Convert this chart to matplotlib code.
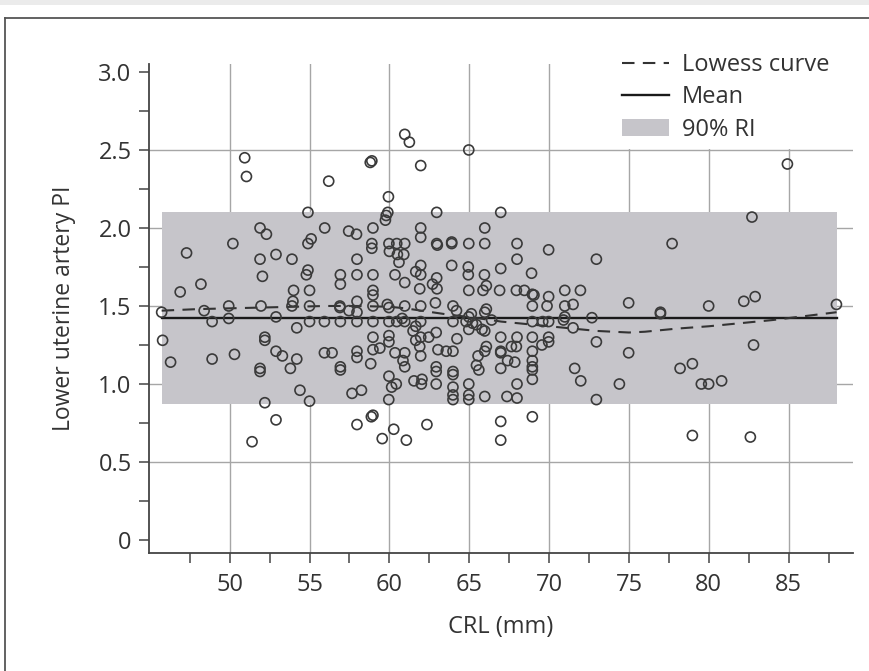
import matplotlib
matplotlib.use('Agg')
import numpy as np
from matplotlib import pyplot as plt
from matplotlib.lines import Line2D
from matplotlib.patches import Patch, Rectangle

#--------------
# data: CRL (mm) vs lower uterine artery PI

crl = [50.94, 51.05, 56.2, 54.9, 51.9, 52.3, 55.95, 55.1, 54.9, 50.2, 47.3, 52.9, 51.9, 53.9, 52.05, 54.9, 54.8, 48.2, 46.9, 54.0, 55.0,
       45.74, 48.4, 49.94, 49.94, 48.9, 51.96, 52.9, 53.96, 53.9, 55.0, 55.0, 55.93, 54.2, 45.8, 52.2, 52.2, 50.3, 52.9, 53.3, 54.2,
       55.93, 46.3, 48.9, 51.9, 51.9, 53.8, 54.4, 55.0, 52.2, 52.9, 51.4,
       60.96, 61.25, 64.97, 58.9, 58.8, 61.96, 59.94, 59.9, 59.8, 59.75, 62.96, 57.45, 57.94, 58.97, 61.96, 61.96, 65.97, 58.9, 58.9,
       59.97, 60.46, 60.96, 60.0, 60.5, 60.9, 60.6, 62.96, 63.0, 63.9, 63.9, 64.97, 65.97, 57.97, 61.96, 61.65, 61.96, 60.35, 63.9,
       64.94, 64.94, 65.95, 62.96, 56.93, 56.93, 57.97, 58.97, 60.96, 61.9, 62.7, 62.98, 58.97, 64.97, 65.86, 66.07,
       58.97, 66.9, 56.9, 56.9, 57.97, 57.97, 57.47, 58.97, 59.87, 59.97, 60.96, 61.96, 62.88, 63.98, 64.2, 65.13, 64.97, 65.97, 66.07,
       56.93, 57.97, 58.97, 59.97, 60.46, 60.96, 60.8, 61.96, 63.98, 64.8, 65.2, 64.97, 65.45, 65.8, 65.97, 66.4, 61.48, 61.65, 62.93,
       58.97, 59.97, 59.97, 61.65, 61.96, 62.46, 64.23, 61.9, 61.96, 63.04, 63.56, 63.98, 58.97, 59.4, 57.97, 57.97, 56.41, 60.35,
       60.96, 60.85, 60.96, 58.83, 56.93, 56.93, 65.97, 66.07, 65.55, 65.45, 65.6, 62.93, 62.93, 63.98, 63.98, 59.97, 60.43, 60.14,
       61.54, 62.04, 62.0, 62.93, 64.97, 63.98, 63.98, 58.25, 57.66, 59.96, 63.98, 64.97, 64.97, 65.97, 58.97, 58.87, 57.97, 60.27,
       62.35, 59.55, 61.06, 66.97, 66.97,
       66.97, 67.99, 67.99, 69.97, 66.97, 68.9, 72.96, 77.7, 67.95, 68.45, 68.95, 69.05, 69.97, 70.98, 71.96, 68.95, 69.87, 70.98,
       71.5, 74.98, 68.95, 69.6, 69.97, 70.9, 70.98, 71.5, 72.68, 76.97, 76.97, 66.97, 67.99, 68.95, 69.97, 69.97, 69.55, 72.96,
       67.95, 67.64, 66.97, 66.97, 68.95, 68.95, 67.4, 67.85, 66.97, 68.95, 68.95, 71.6, 74.98, 68.95, 71.98, 67.99, 74.4, 67.36,
       67.99, 72.96, 68.95,
       84.92, 82.7, 79.99, 82.19, 82.9, 87.99, 82.8, 78.2, 78.97, 79.53, 79.99, 80.8, 78.97, 82.6]

pi = [2.45, 2.33, 2.30, 2.10, 2.00, 1.96, 2.00, 1.93, 1.90, 1.90, 1.84, 1.83, 1.80, 1.80, 1.69, 1.73, 1.70, 1.64, 1.59, 1.60, 1.60,
      1.46, 1.47, 1.50, 1.42, 1.40, 1.50, 1.43, 1.53, 1.50, 1.50, 1.40, 1.40, 1.36, 1.28, 1.30, 1.28, 1.19, 1.21, 1.18, 1.16,
      1.20, 1.14, 1.16, 1.10, 1.08, 1.10, 0.96, 0.89, 0.88, 0.77, 0.63,
      2.60, 2.55, 2.50, 2.43, 2.42, 2.40, 2.20, 2.10, 2.08, 2.05, 2.10, 1.98, 1.96, 2.00, 2.00, 1.94, 2.00, 1.90, 1.87,
      1.90, 1.90, 1.90, 1.85, 1.83, 1.83, 1.78, 1.90, 1.89, 1.91, 1.90, 1.90, 1.90, 1.80, 1.76, 1.72, 1.70, 1.70, 1.76,
      1.75, 1.70, 1.70, 1.68, 1.70, 1.64, 1.70, 1.70, 1.65, 1.61, 1.64, 1.61, 1.60, 1.60, 1.60, 1.63,
      1.57, 1.60, 1.50, 1.49, 1.53, 1.46, 1.47, 1.50, 1.51, 1.49, 1.50, 1.50, 1.52, 1.50, 1.47, 1.45, 1.43, 1.46, 1.48,
      1.40, 1.40, 1.40, 1.40, 1.40, 1.40, 1.42, 1.40, 1.40, 1.40, 1.39, 1.35, 1.38, 1.35, 1.34, 1.41, 1.34, 1.37, 1.33,
      1.30, 1.31, 1.27, 1.28, 1.30, 1.30, 1.29, 1.24, 1.18, 1.22, 1.21, 1.21, 1.22, 1.23, 1.21, 1.17, 1.20, 1.20,
      1.20, 1.15, 1.11, 1.13, 1.11, 1.09, 1.21, 1.24, 1.18, 1.12, 1.09, 1.11, 1.08, 1.08, 1.06, 1.05, 1.00, 0.98,
      1.02, 1.03, 1.00, 1.00, 1.00, 0.98, 0.93, 0.96, 0.94, 0.90, 0.90, 0.93, 0.90, 0.92, 0.80, 0.79, 0.74, 0.71,
      0.74, 0.65, 0.64, 0.76, 0.64,
      2.10, 1.90, 1.80, 1.86, 1.74, 1.71, 1.80, 1.90, 1.60, 1.60, 1.575, 1.57, 1.56, 1.60, 1.60, 1.50, 1.50, 1.50,
      1.51, 1.52, 1.40, 1.40, 1.40, 1.41, 1.43, 1.36, 1.425, 1.46, 1.45, 1.30, 1.30, 1.30, 1.30, 1.27, 1.25, 1.27,
      1.24, 1.24, 1.21, 1.20, 1.21, 1.15, 1.15, 1.14, 1.10, 1.11, 1.09, 1.10, 1.20, 1.03, 1.02, 1.00, 1.00, 0.92,
      0.91, 0.90, 0.79,
      2.41, 2.07, 1.50, 1.53, 1.56, 1.51, 1.25, 1.10, 1.13, 1.00, 1.00, 1.02, 0.67, 0.66]

# lowess curve
lowess_x = [45.74, 48, 50, 52, 54, 56, 58, 60, 61, 62, 63, 64, 65, 66, 67, 68, 69, 70, 71, 72, 73, 74, 75, 76, 77, 78, 80, 82, 84, 86, 88]
lowess_y = [1.47, 1.48, 1.485, 1.49, 1.495, 1.50, 1.50, 1.495, 1.485, 1.47, 1.455, 1.44, 1.43, 1.415, 1.40, 1.39, 1.38, 1.37, 1.36, 1.35,
            1.34, 1.335, 1.33, 1.335, 1.345, 1.355, 1.37, 1.39, 1.41, 1.435, 1.46]

mean_pi = 1.42
ri_lo, ri_hi = 0.87, 2.10  # 90% reference interval
ri_x = [45.74, 88.05]

x_grid = [50, 55, 60, 65, 70, 75, 80, 85]
y_grid = [0.5, 1.0, 1.5, 2.0, 2.5]
y_ticks = [0, 0.5, 1.0, 1.5, 2.0, 2.5, 3.0]
y_ticklabels = ['0', '0.5', '1.0', '1.5', '2.0', '2.5', '3.0']

#--------------

txt = '#333333'
font = ['Open Sans', 'DejaVu Sans']

fig = plt.figure(figsize=(8.69, 6.71), dpi=100)
ax = fig.add_axes([0.1715, 0.1759, 0.8096, 0.7285])

# page frame round the figure
fig.add_artist(Rectangle((0, 1 - 5/671), 1, 5/671, transform=fig.transFigure, color='#ebebeb', lw=0))
fig.add_artist(Line2D([4.5/869, 4.5/869], [0, 1 - 18/671], transform=fig.transFigure, color='#555555', lw=1.3))
fig.add_artist(Line2D([4.5/869, 1], [1 - 18/671, 1 - 18/671], transform=fig.transFigure, color='#555555', lw=1.3))

for g in x_grid:
    ax.axvline(g, color='#a6a6a6', lw=1.0, zorder=0)
for g in y_grid:
    ax.axhline(g, color='#a6a6a6', lw=1.0, zorder=0)

ax.fill_between(ri_x, ri_lo, ri_hi, color='#c6c5ca', lw=0, zorder=1)
ax.plot(ri_x, [mean_pi, mean_pi], color='#1a1a1a', lw=1.7, zorder=2)
ax.plot(lowess_x, lowess_y, color='#333333', lw=1.5, dashes=(6, 4), zorder=2)
ax.scatter(crl, pi, s=52, facecolors='none', edgecolors='#3a3a3a', linewidths=1.2, zorder=3)

ax.set_xlim(44.95, 89.0)
ax.set_ylim(-0.083, 3.05)
for side in ['top', 'right']:
    ax.spines[side].set_visible(False)
for side in ['left', 'bottom']:
    ax.spines[side].set_color('#444444')
    ax.spines[side].set_linewidth(1.3)

ax.set_xticks(x_grid)
ax.set_xticks([47.5, 52.5, 57.5, 62.5, 67.5, 72.5, 77.5, 82.5, 87.5], minor=True)
ax.set_yticks(y_ticks)
ax.set_yticklabels(y_ticklabels)
ax.set_yticks([0.25, 0.75, 1.25, 1.75, 2.25, 2.75], minor=True)
ax.tick_params(which='both', direction='out', length=7.5, width=1.1, color='#444444', labelcolor=txt, labelsize=17)
ax.tick_params(axis='x', pad=7)
ax.tick_params(axis='y', pad=5)
for lab in ax.get_xticklabels() + ax.get_yticklabels():
    lab.set_family(font)

ax.set_xlabel('CRL (mm)', fontsize=17, color=txt, family=font, labelpad=13)
ax.set_ylabel('Lower uterine artery PI', fontsize=16.5, color=txt, family=font, labelpad=16)

handles = [Line2D([], [], color='#333333', lw=1.5, dashes=(6, 4)),
           Line2D([], [], color='#1a1a1a', lw=1.7),
           Patch(facecolor='#c6c5ca', edgecolor='none')]
leg = ax.legend(handles, ['Lowess curve', 'Mean', '90% RI'], loc='upper right', bbox_to_anchor=(0.9775, 1.0376),
                frameon=True, fancybox=False, framealpha=1, edgecolor='none', facecolor='white',
                prop={'family': font, 'size': 17}, handlelength=2.0, handletextpad=0.55,
                labelspacing=0.36, borderaxespad=0, borderpad=0.3)
for t in leg.get_texts():
    t.set_color(txt)

fig.savefig('out.png', dpi=100)
